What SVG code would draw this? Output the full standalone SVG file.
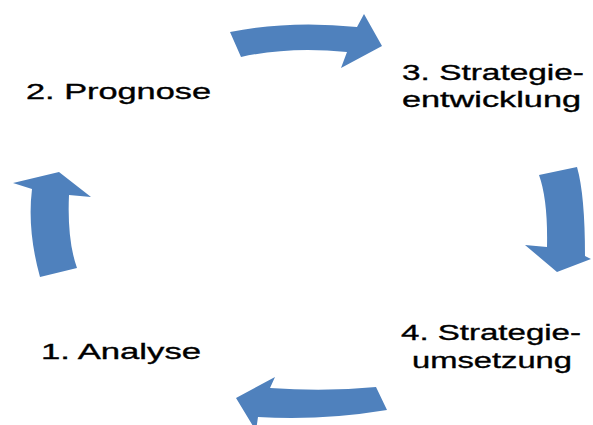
<svg xmlns="http://www.w3.org/2000/svg" width="593" height="425" viewBox="0 0 593 425">
  <style>
    .arrow { fill: #4f81bd; stroke: none; }
    .label { font-family: "Liberation Sans", Arial, sans-serif; font-size: 22px; fill: #000; stroke: #000; stroke-width: 0.35px; }
  </style>
  <rect width="593" height="425" fill="#fff"/>

  <!-- curved block arrows of the cycle -->
  <g id="connectors">
    <path id="arrow-2-3" class="arrow" d="M230,32 Q290,20 357,27 L364,14 L382,46 L341,68 L347,52 Q290,46 241,57 Z"/>
    <path id="arrow-3-4" class="arrow" d="M539,175 L577,167 Q585,195 585,256 L591,259 L557,272 L525,245 L547,247 Q548,200 539,175 Z"/>
    <path id="arrow-4-1" class="arrow" d="M275,377 L270,388 Q325,392 376,387 L387,410 Q320,421 258,417 L256,431 L236,398 Z"/>
    <path id="arrow-1-2" class="arrow" d="M59,172 L91,197 L69,195 Q67,240 77,268 L40,277 Q27,230 32,189 L13,183 Z"/>
  </g>

  <g id="step-1">
    <text class="label" x="41" y="359" textLength="160" lengthAdjust="spacingAndGlyphs">1. Analyse</text>
  </g>
  <g id="step-2">
    <text class="label" x="26" y="99" textLength="185" lengthAdjust="spacingAndGlyphs">2. Prognose</text>
  </g>
  <g id="step-3">
    <text class="label" x="402" y="80" textLength="182" lengthAdjust="spacingAndGlyphs">3. Strategie-</text>
    <text class="label" x="402" y="107" textLength="179" lengthAdjust="spacingAndGlyphs">entwicklung</text>
  </g>
  <g id="step-4">
    <text class="label" x="401" y="340" textLength="180" lengthAdjust="spacingAndGlyphs">4. Strategie-</text>
    <text class="label" x="412" y="368" textLength="160" lengthAdjust="spacingAndGlyphs">umsetzung</text>
  </g>
</svg>
